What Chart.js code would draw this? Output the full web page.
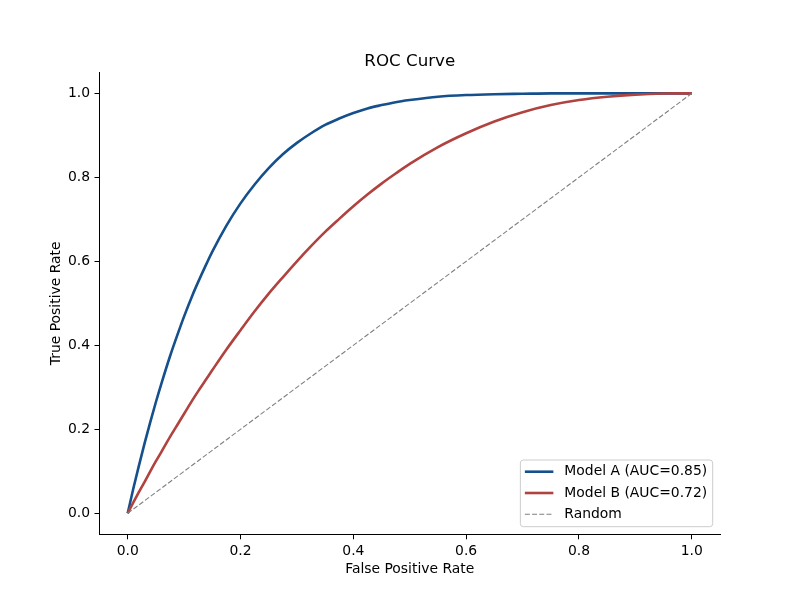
<!DOCTYPE html>
<html>
<head>
<meta charset="utf-8">
<script src="https://cdn.jsdelivr.net/npm/chart.js@4"></script>
<style>
  body { margin: 0; background: #fff; }
</style>
</head>
<body>
<canvas id="rocChart" width="800" height="600"></canvas>
<script>
// values
var fpr  = [0, 0.01, 0.02, 0.03, 0.04, 0.05, 0.06, 0.075, 0.09, 0.1, 0.115, 0.125, 0.14, 0.15, 0.175, 0.2, 0.225, 0.25, 0.275, 0.3, 0.325, 0.35, 0.375, 0.4, 0.425, 0.45, 0.475, 0.5, 0.55, 0.6, 0.65, 0.7, 0.75, 0.8, 0.85, 0.9, 0.95, 1.0];
var tprA = [0, 0.059, 0.114, 0.167, 0.217, 0.265, 0.310, 0.374, 0.432, 0.469, 0.520, 0.551, 0.595, 0.623, 0.685, 0.738, 0.783, 0.822, 0.855, 0.882, 0.905, 0.925, 0.940, 0.953, 0.964, 0.972, 0.979, 0.984, 0.992, 0.996, 0.998, 0.999, 1.0, 1.0, 1.0, 1.0, 1.0, 1.0];
var tprB = [0, 0.026, 0.051, 0.075, 0.100, 0.124, 0.147, 0.182, 0.215, 0.237, 0.270, 0.291, 0.321, 0.341, 0.390, 0.436, 0.481, 0.523, 0.562, 0.600, 0.636, 0.670, 0.701, 0.731, 0.759, 0.785, 0.809, 0.832, 0.872, 0.905, 0.933, 0.955, 0.972, 0.984, 0.992, 0.997, 0.9995, 1.0];
var randomX = [0, 1];
var randomY = [0, 1];
var xTicks = [0, 0.2, 0.4, 0.6, 0.8, 1.0];
var yTicks = [0, 0.2, 0.4, 0.6, 0.8, 1.0];
var labels = ['Model A (AUC=0.85)', 'Model B (AUC=0.72)', 'Random'];

function pairs(xs, ys) {
    return xs.map(function (x, i) { return { x: x, y: ys[i] }; });
}

Chart.defaults.font.family = 'DejaVu Sans';
Chart.defaults.color = '#000';

// legend box drawn inside the plot, lower right
var cornerLegend = {
    id: 'cornerLegend',
    afterDraw: function (chart) {
        var ctx = chart.ctx;
        var area = chart.chartArea;
        var sets = chart.data.datasets;
        ctx.save();
        ctx.font = '13.9px "DejaVu Sans"';
        var maxW = 0;
        sets.forEach(function (ds) { maxW = Math.max(maxW, ctx.measureText(ds.label).width); });
        var w = 4.5 + 28.5 + 11 + maxW + 5.5;
        var h = 66.7;
        var right = area.right - 7.3;
        var bottom = area.bottom - 7.6;
        var left = right - w;
        var top = bottom - h;

        ctx.beginPath();
        ctx.roundRect(left, top, w, h, 3);
        ctx.fillStyle = 'rgba(255,255,255,0.8)';
        ctx.fill();
        ctx.strokeStyle = '#cccccc';
        ctx.lineWidth = 1;
        ctx.stroke();

        sets.forEach(function (ds, i) {
            var y = top + 11.7 + i * 21.3;
            ctx.beginPath();
            ctx.setLineDash(ds.borderDash || []);
            ctx.strokeStyle = ds.borderColor;
            ctx.lineWidth = ds.borderWidth;
            ctx.moveTo(left + 4.5, y);
            ctx.lineTo(left + 33, y);
            ctx.stroke();
            ctx.setLineDash([]);
            ctx.fillStyle = '#000';
            ctx.textBaseline = 'middle';
            ctx.textAlign = 'left';
            ctx.fillText(ds.label, left + 44, y);
        });
        ctx.restore();
    }
};

var ctx = document.getElementById('rocChart').getContext('2d');
var rocChart = new Chart(ctx, {
    type: 'line',
    data: {
        datasets: [{
            label: labels[0],
            data: pairs(fpr, tprA),
            borderColor: '#15508c',
            borderWidth: 2.6,
            pointRadius: 0,
            cubicInterpolationMode: 'monotone',
            order: 2
        }, {
            label: labels[1],
            data: pairs(fpr, tprB),
            borderColor: '#b0423f',
            borderWidth: 2.6,
            pointRadius: 0,
            cubicInterpolationMode: 'monotone',
            order: 1
        }, {
            label: labels[2],
            data: pairs(randomX, randomY),
            borderColor: '#808080',
            borderWidth: 1.1,
            borderDash: [5, 2.2],
            pointRadius: 0,
            order: 0
        }]
    },
    options: {
        responsive: false,
        animation: false,
        layout: {
            padding: { left: 0, right: 80, top: 0, bottom: 0 }
        },
        plugins: {
            legend: { display: false },
            tooltip: { enabled: false },
            title: {
                display: true,
                text: 'ROC Curve',
                fullSize: false,
                font: { size: 16.7, weight: 'normal' },
                padding: { top: 52, bottom: 0.3 }
            }
        },
        scales: {
            x: {
                type: 'linear',
                min: -0.05,
                max: 1.05,
                afterBuildTicks: function (axis) {
                    axis.ticks = xTicks.map(function (v) { return { value: v }; });
                },
                afterFit: function (axis) { axis.height = 65.7; },
                ticks: {
                    font: { size: 13.9 },
                    padding: 4,
                    maxRotation: 0,
                    callback: function (v) { return v.toFixed(1); }
                },
                grid: {
                    drawOnChartArea: false,
                    drawTicks: true,
                    tickLength: 5,
                    tickColor: '#000',
                    tickWidth: 1
                },
                border: { display: true, color: '#000', width: 1 },
                title: {
                    display: true,
                    text: 'False Positive Rate',
                    font: { size: 13.9 },
                    padding: { top: 0, bottom: 21.9 }
                }
            },
            y: {
                type: 'linear',
                min: -0.05,
                max: 1.05,
                afterBuildTicks: function (axis) {
                    axis.ticks = yTicks.map(function (v) { return { value: v }; });
                },
                afterFit: function (axis) { axis.width = 99.5; },
                ticks: {
                    font: { size: 13.9 },
                    padding: 4.5,
                    callback: function (v) { return v.toFixed(1); }
                },
                grid: {
                    drawOnChartArea: false,
                    drawTicks: true,
                    tickLength: 5,
                    tickColor: '#000',
                    tickWidth: 1
                },
                border: { display: true, color: '#000', width: 1 },
                title: {
                    display: true,
                    text: 'True Positive Rate',
                    font: { size: 13.9 },
                    padding: { top: 48, bottom: 0 }
                }
            }
        }
    },
    plugins: [cornerLegend]
});
</script>
</body>
</html>
